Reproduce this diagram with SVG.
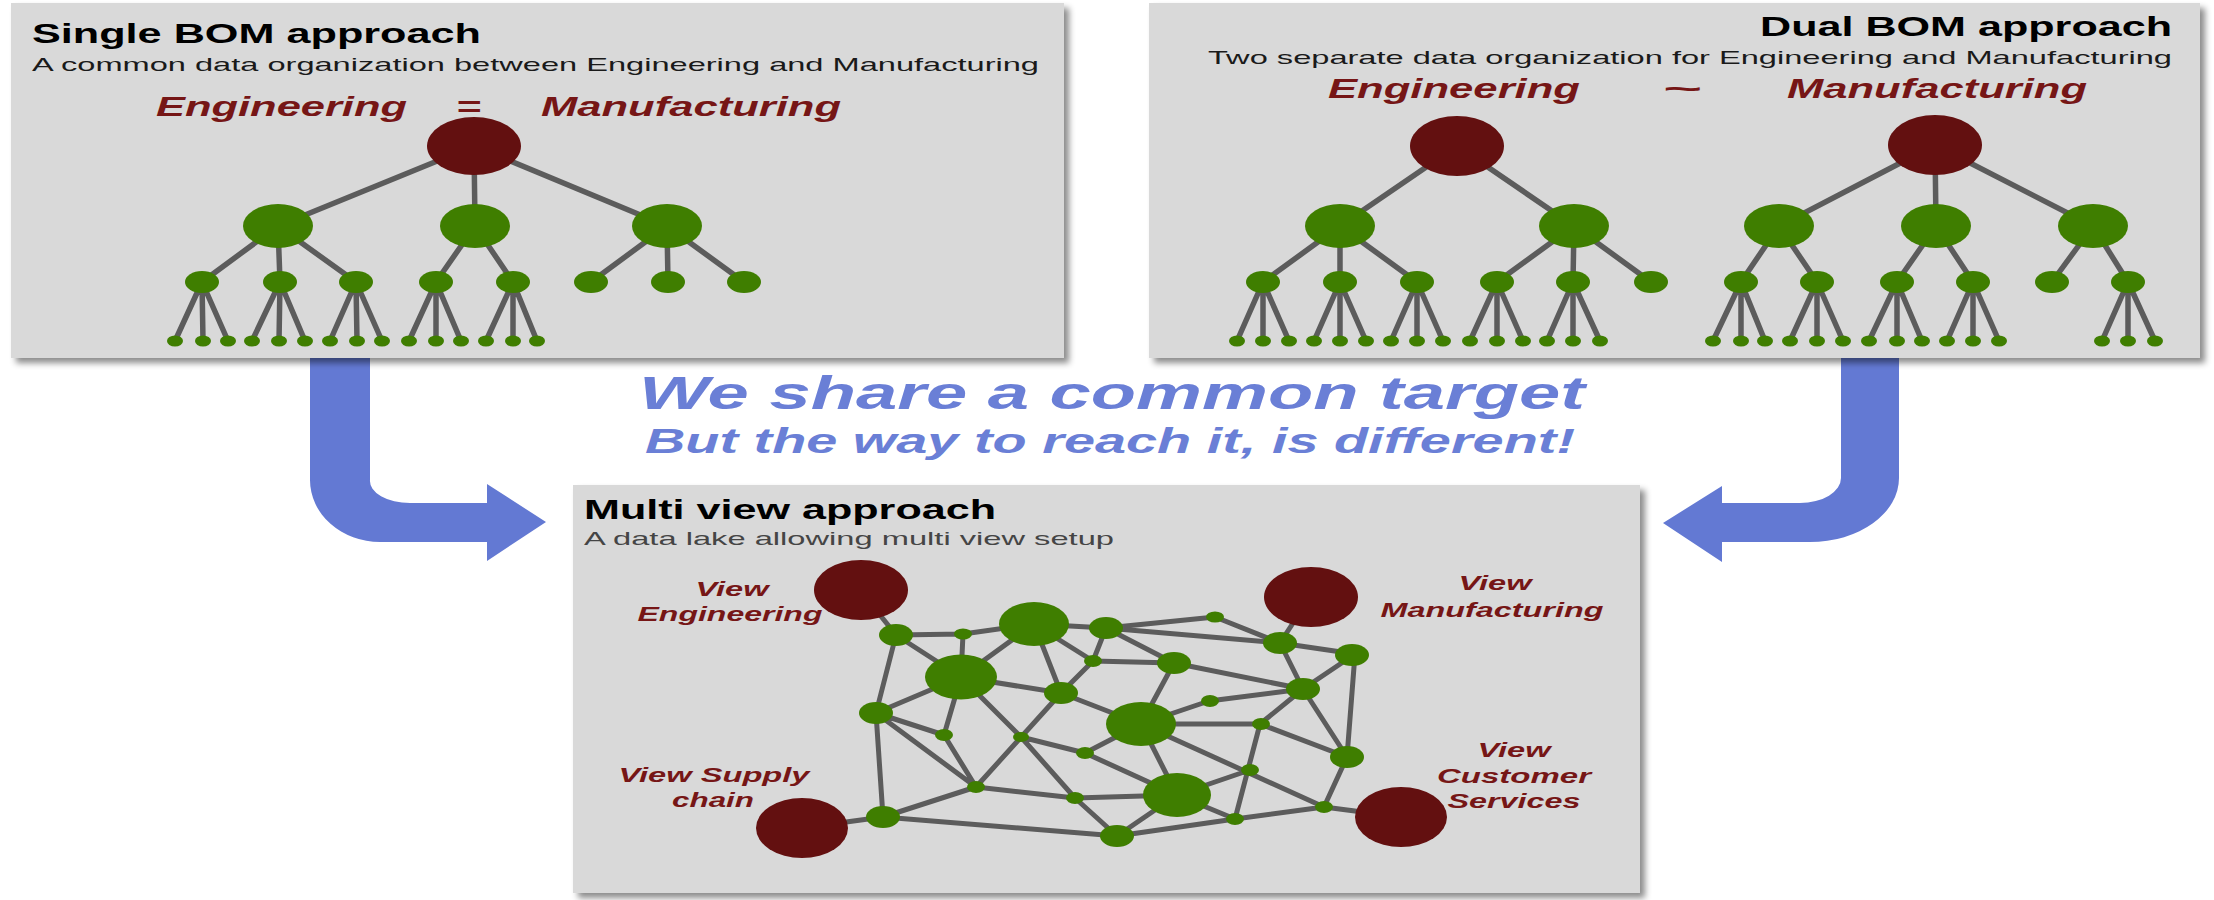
<svg xmlns="http://www.w3.org/2000/svg" width="2214" height="900" viewBox="0 0 2214 900">
<defs>
<filter id="sh" x="-5%" y="-5%" width="115%" height="115%"><feDropShadow dx="5" dy="5" stdDeviation="3" flood-color="#000" flood-opacity="0.45"/></filter>
<style>
.panel{fill:#d9d9d9;filter:url(#sh)}
.e{stroke:#5c5c5c;stroke-width:5.5;stroke-linecap:round;fill:none}
.r{fill:#631010}
.g{fill:#3f7e00}
.ttl{font-family:"Liberation Sans",Arial,sans-serif;font-weight:bold;font-size:27px;fill:#000}
.sub{font-family:"Liberation Sans",Arial,sans-serif;font-size:19px;fill:#1a1a1a}
.red{font-family:"Liberation Sans",Arial,sans-serif;font-weight:bold;font-style:italic;font-size:28px;fill:#761616}
.vl{font-family:"Liberation Sans",Arial,sans-serif;font-weight:bold;font-style:italic;font-size:20px;fill:#761616;text-anchor:middle}
.blue{font-family:"Liberation Sans",Arial,sans-serif;font-weight:bold;font-style:italic;fill:#6a7fd6}
.arrow{fill:#6379d3}
</style>
</defs>
<rect width="2214" height="900" fill="#fff"/>

<g id="arrows">
<path class="arrow" d="M310 350 L370 350 L370 480 A40 22 0 0 0 410 503 L487 503 L487 484 L546 522 L487 561 L487 542 L380 542 A70 62 0 0 1 310 480 Z"/>
<path class="arrow" d="M1899 350 L1841 350 L1841 478 A41 25 0 0 1 1800 503 L1722 503 L1722 486 L1663 523 L1722 562 L1722 542 L1810 542 A89 64 0 0 0 1899 478 Z"/>
</g>

<g id="panel-single">
<rect class="panel" x="11" y="3" width="1053" height="355"/>
<text class="ttl" x="32" y="43" textLength="449" lengthAdjust="spacingAndGlyphs">Single BOM approach</text>
<text class="sub" x="32" y="71" textLength="1007" lengthAdjust="spacingAndGlyphs">A common data organization between Engineering and Manufacturing</text>
<text class="red" x="156" y="116" textLength="251" lengthAdjust="spacingAndGlyphs">Engineering</text>
<text class="red" x="456" y="116" textLength="25" lengthAdjust="spacingAndGlyphs">=</text>
<text class="red" x="541" y="116" textLength="300" lengthAdjust="spacingAndGlyphs">Manufacturing</text>
</g>

<g id="panel-dual">
<rect class="panel" x="1149" y="3" width="1051" height="355"/>
<text class="ttl" x="1760" y="36" textLength="412" lengthAdjust="spacingAndGlyphs">Dual BOM approach</text>
<text class="sub" x="1208" y="64" textLength="964" lengthAdjust="spacingAndGlyphs">Two separate data organization for Engineering and Manufacturing</text>
<text class="red" x="1328" y="98" textLength="252" lengthAdjust="spacingAndGlyphs">Engineering</text>
<text class="red" x="1662" y="98" textLength="39" lengthAdjust="spacingAndGlyphs" font-size="34">~</text>
<text class="red" x="1787" y="98" textLength="300" lengthAdjust="spacingAndGlyphs">Manufacturing</text>
</g>

<g id="panel-multi">
<rect class="panel" x="573" y="485" width="1067" height="408"/>
<text class="ttl" x="584" y="519" textLength="412" lengthAdjust="spacingAndGlyphs">Multi view approach</text>
<text class="sub" x="584" y="545" textLength="530" lengthAdjust="spacingAndGlyphs" style="fill:#454545">A data lake allowing multi view setup</text>
<text class="vl" x="732" y="596" textLength="73" lengthAdjust="spacingAndGlyphs">View</text>
<text class="vl" x="730" y="621" textLength="185" lengthAdjust="spacingAndGlyphs">Engineering</text>
<text class="vl" x="1495" y="590" textLength="73" lengthAdjust="spacingAndGlyphs">View</text>
<text class="vl" x="1492" y="617" textLength="223" lengthAdjust="spacingAndGlyphs">Manufacturing</text>
<text class="vl" x="714" y="782" textLength="191" lengthAdjust="spacingAndGlyphs">View Supply</text>
<text class="vl" x="713" y="807" textLength="82" lengthAdjust="spacingAndGlyphs">chain</text>
<text class="vl" x="1514" y="757" textLength="73" lengthAdjust="spacingAndGlyphs">View</text>
<text class="vl" x="1514" y="783" textLength="154" lengthAdjust="spacingAndGlyphs">Customer</text>
<text class="vl" x="1514" y="808" textLength="133" lengthAdjust="spacingAndGlyphs">Services</text>
</g>

<g id="message">
<text class="blue" x="639" y="409" font-size="46" textLength="946" lengthAdjust="spacingAndGlyphs">We share a common target</text>
<text class="blue" x="645" y="453" font-size="35" textLength="930" lengthAdjust="spacingAndGlyphs">But the way to reach it, is different!</text>
</g>

<g id="connectors">
<path class="e" d="M474 146 L278 226 M474 146 L475 226 M474 146 L667 226 M278 226 L202 282 M278 226 L280 282 M278 226 L356 282 M475 226 L436 282 M475 226 L513 282 M667 226 L591 282 M667 226 L668 282 M667 226 L744 282 M202 282 L175 341 M202 282 L203 341 M202 282 L228 341 M280 282 L252 341 M280 282 L279 341 M280 282 L305 341 M356 282 L330 341 M356 282 L357 341 M356 282 L382 341 M436 282 L409 341 M436 282 L436 341 M436 282 L461 341 M513 282 L486 341 M513 282 L513 341 M513 282 L537 341"/>
<path class="e" d="M1457 146 L1340 226 M1457 146 L1574 226 M1340 226 L1263 282 M1340 226 L1340 282 M1340 226 L1417 282 M1574 226 L1497 282 M1574 226 L1573 282 M1574 226 L1651 282 M1263 282 L1237 341 M1263 282 L1263 341 M1263 282 L1289 341 M1340 282 L1314 341 M1340 282 L1340 341 M1340 282 L1366 341 M1417 282 L1391 341 M1417 282 L1417 341 M1417 282 L1443 341 M1497 282 L1470 341 M1497 282 L1497 341 M1497 282 L1523 341 M1573 282 L1547 341 M1573 282 L1573 341 M1573 282 L1600 341"/>
<path class="e" d="M1935 145 L1779 226 M1935 145 L1936 226 M1935 145 L2093 226 M1779 226 L1741 282 M1779 226 L1817 282 M1936 226 L1897 282 M1936 226 L1973 282 M2093 226 L2052 282 M2093 226 L2128 282 M1741 282 L1713 341 M1741 282 L1741 341 M1741 282 L1765 341 M1817 282 L1790 341 M1817 282 L1817 341 M1817 282 L1843 341 M1897 282 L1869 341 M1897 282 L1897 341 M1897 282 L1922 341 M1973 282 L1947 341 M1973 282 L1973 341 M1973 282 L1999 341 M2128 282 L2102 341 M2128 282 L2128 341 M2128 282 L2155 341"/>
<path class="e" style="stroke-width:5" d="M860 590 L896 635 M896 635 L963 634 M963 634 L1034 624 M963 634 L961 677 M896 635 L961 677 M896 635 L876 713 M1034 624 L1106 628 M1034 624 L961 677 M1034 624 L1061 693 M1034 624 L1093 661 M1106 628 L1215 617 M1106 628 L1280 643 M1106 628 L1093 661 M1106 628 L1174 663 M1215 617 L1280 643 M1310 597 L1280 643 M1280 643 L1355 654 M1280 643 L1303 689 M1093 661 L1174 663 M1093 661 L1061 693 M1174 663 L1303 689 M1174 663 L1141 724 M1355 654 L1303 689 M1355 654 L1347 757 M961 677 L1061 693 M961 677 L876 713 M961 677 L944 735 M961 677 L1021 737 M1021 737 L1075 798 M1075 798 L1117 836 M1061 693 L976 787 M876 713 L976 787 M876 713 L944 735 M876 713 L883 817 M944 735 L976 787 M1061 693 L1141 724 M1141 724 L1085 753 M1085 753 L1021 737 M1141 724 L1209 701 M1209 701 L1303 689 M1141 724 L1260 724 M1260 724 L1303 689 M1260 724 L1347 757 M1141 724 L1324 807 M1141 724 L1177 795 M1303 689 L1347 757 M1260 724 L1235 819 M1347 757 L1324 807 M1324 807 L1401 817 M1324 807 L1235 819 M1235 819 L1117 836 M1177 795 L1250 770 M1177 795 L1235 819 M1177 795 L1117 836 M1177 795 L1075 798 M1075 798 L976 787 M1085 753 L1177 795 M976 787 L883 817 M883 817 L1117 836 M802 828 L883 817"/>
</g>

<g id="tree-single">
<g id="s-root"><ellipse class="r" cx="474" cy="146" rx="47" ry="29"/></g>
<g id="s-a1"><ellipse class="g" cx="278" cy="226" rx="35" ry="22"/></g>
<g id="s-a2"><ellipse class="g" cx="475" cy="226" rx="35" ry="22"/></g>
<g id="s-a3"><ellipse class="g" cx="667" cy="226" rx="35" ry="22"/></g>
<g id="s-b1"><ellipse class="g" cx="202" cy="282" rx="17" ry="11"/></g>
<g id="s-b2"><ellipse class="g" cx="280" cy="282" rx="17" ry="11"/></g>
<g id="s-b3"><ellipse class="g" cx="356" cy="282" rx="17" ry="11"/></g>
<g id="s-b4"><ellipse class="g" cx="436" cy="282" rx="17" ry="11"/></g>
<g id="s-b5"><ellipse class="g" cx="513" cy="282" rx="17" ry="11"/></g>
<g id="s-b6"><ellipse class="g" cx="591" cy="282" rx="17" ry="11"/></g>
<g id="s-b7"><ellipse class="g" cx="668" cy="282" rx="17" ry="11"/></g>
<g id="s-b8"><ellipse class="g" cx="744" cy="282" rx="17" ry="11"/></g>
<g id="s-c1"><ellipse class="g" cx="175" cy="341" rx="8" ry="5.5"/></g>
<g id="s-c2"><ellipse class="g" cx="203" cy="341" rx="8" ry="5.5"/></g>
<g id="s-c3"><ellipse class="g" cx="228" cy="341" rx="8" ry="5.5"/></g>
<g id="s-c4"><ellipse class="g" cx="252" cy="341" rx="8" ry="5.5"/></g>
<g id="s-c5"><ellipse class="g" cx="279" cy="341" rx="8" ry="5.5"/></g>
<g id="s-c6"><ellipse class="g" cx="305" cy="341" rx="8" ry="5.5"/></g>
<g id="s-c7"><ellipse class="g" cx="330" cy="341" rx="8" ry="5.5"/></g>
<g id="s-c8"><ellipse class="g" cx="357" cy="341" rx="8" ry="5.5"/></g>
<g id="s-c9"><ellipse class="g" cx="382" cy="341" rx="8" ry="5.5"/></g>
<g id="s-c10"><ellipse class="g" cx="409" cy="341" rx="8" ry="5.5"/></g>
<g id="s-c11"><ellipse class="g" cx="436" cy="341" rx="8" ry="5.5"/></g>
<g id="s-c12"><ellipse class="g" cx="461" cy="341" rx="8" ry="5.5"/></g>
<g id="s-c13"><ellipse class="g" cx="486" cy="341" rx="8" ry="5.5"/></g>
<g id="s-c14"><ellipse class="g" cx="513" cy="341" rx="8" ry="5.5"/></g>
<g id="s-c15"><ellipse class="g" cx="537" cy="341" rx="8" ry="5.5"/></g>
</g>

<g id="tree-dual-eng">
<g id="de-root"><ellipse class="r" cx="1457" cy="146" rx="47" ry="30"/></g>
<g id="de-a1"><ellipse class="g" cx="1340" cy="226" rx="35" ry="22"/></g>
<g id="de-a2"><ellipse class="g" cx="1574" cy="226" rx="35" ry="22"/></g>
<g id="de-b1"><ellipse class="g" cx="1263" cy="282" rx="17" ry="11"/></g>
<g id="de-b2"><ellipse class="g" cx="1340" cy="282" rx="17" ry="11"/></g>
<g id="de-b3"><ellipse class="g" cx="1417" cy="282" rx="17" ry="11"/></g>
<g id="de-b4"><ellipse class="g" cx="1497" cy="282" rx="17" ry="11"/></g>
<g id="de-b5"><ellipse class="g" cx="1573" cy="282" rx="17" ry="11"/></g>
<g id="de-b6"><ellipse class="g" cx="1651" cy="282" rx="17" ry="11"/></g>
<g id="de-c1"><ellipse class="g" cx="1237" cy="341" rx="8" ry="5.5"/></g>
<g id="de-c2"><ellipse class="g" cx="1263" cy="341" rx="8" ry="5.5"/></g>
<g id="de-c3"><ellipse class="g" cx="1289" cy="341" rx="8" ry="5.5"/></g>
<g id="de-c4"><ellipse class="g" cx="1314" cy="341" rx="8" ry="5.5"/></g>
<g id="de-c5"><ellipse class="g" cx="1340" cy="341" rx="8" ry="5.5"/></g>
<g id="de-c6"><ellipse class="g" cx="1366" cy="341" rx="8" ry="5.5"/></g>
<g id="de-c7"><ellipse class="g" cx="1391" cy="341" rx="8" ry="5.5"/></g>
<g id="de-c8"><ellipse class="g" cx="1417" cy="341" rx="8" ry="5.5"/></g>
<g id="de-c9"><ellipse class="g" cx="1443" cy="341" rx="8" ry="5.5"/></g>
<g id="de-c10"><ellipse class="g" cx="1470" cy="341" rx="8" ry="5.5"/></g>
<g id="de-c11"><ellipse class="g" cx="1497" cy="341" rx="8" ry="5.5"/></g>
<g id="de-c12"><ellipse class="g" cx="1523" cy="341" rx="8" ry="5.5"/></g>
<g id="de-c13"><ellipse class="g" cx="1547" cy="341" rx="8" ry="5.5"/></g>
<g id="de-c14"><ellipse class="g" cx="1573" cy="341" rx="8" ry="5.5"/></g>
<g id="de-c15"><ellipse class="g" cx="1600" cy="341" rx="8" ry="5.5"/></g>
</g>

<g id="tree-dual-mfg">
<g id="dm-root"><ellipse class="r" cx="1935" cy="145" rx="47" ry="30"/></g>
<g id="dm-a1"><ellipse class="g" cx="1779" cy="226" rx="35" ry="22"/></g>
<g id="dm-a2"><ellipse class="g" cx="1936" cy="226" rx="35" ry="22"/></g>
<g id="dm-a3"><ellipse class="g" cx="2093" cy="226" rx="35" ry="22"/></g>
<g id="dm-b1"><ellipse class="g" cx="1741" cy="282" rx="17" ry="11"/></g>
<g id="dm-b2"><ellipse class="g" cx="1817" cy="282" rx="17" ry="11"/></g>
<g id="dm-b3"><ellipse class="g" cx="1897" cy="282" rx="17" ry="11"/></g>
<g id="dm-b4"><ellipse class="g" cx="1973" cy="282" rx="17" ry="11"/></g>
<g id="dm-b5"><ellipse class="g" cx="2052" cy="282" rx="17" ry="11"/></g>
<g id="dm-b6"><ellipse class="g" cx="2128" cy="282" rx="17" ry="11"/></g>
<g id="dm-c1"><ellipse class="g" cx="1713" cy="341" rx="8" ry="5.5"/></g>
<g id="dm-c2"><ellipse class="g" cx="1741" cy="341" rx="8" ry="5.5"/></g>
<g id="dm-c3"><ellipse class="g" cx="1765" cy="341" rx="8" ry="5.5"/></g>
<g id="dm-c4"><ellipse class="g" cx="1790" cy="341" rx="8" ry="5.5"/></g>
<g id="dm-c5"><ellipse class="g" cx="1817" cy="341" rx="8" ry="5.5"/></g>
<g id="dm-c6"><ellipse class="g" cx="1843" cy="341" rx="8" ry="5.5"/></g>
<g id="dm-c7"><ellipse class="g" cx="1869" cy="341" rx="8" ry="5.5"/></g>
<g id="dm-c8"><ellipse class="g" cx="1897" cy="341" rx="8" ry="5.5"/></g>
<g id="dm-c9"><ellipse class="g" cx="1922" cy="341" rx="8" ry="5.5"/></g>
<g id="dm-c10"><ellipse class="g" cx="1947" cy="341" rx="8" ry="5.5"/></g>
<g id="dm-c11"><ellipse class="g" cx="1973" cy="341" rx="8" ry="5.5"/></g>
<g id="dm-c12"><ellipse class="g" cx="1999" cy="341" rx="8" ry="5.5"/></g>
<g id="dm-c13"><ellipse class="g" cx="2102" cy="341" rx="8" ry="5.5"/></g>
<g id="dm-c14"><ellipse class="g" cx="2128" cy="341" rx="8" ry="5.5"/></g>
<g id="dm-c15"><ellipse class="g" cx="2155" cy="341" rx="8" ry="5.5"/></g>
</g>

<g id="network">
<g id="view-eng"><ellipse class="r" cx="861" cy="590" rx="47" ry="30"/></g>
<g id="view-mfg"><ellipse class="r" cx="1311" cy="597" rx="47" ry="30"/></g>
<g id="view-supply"><ellipse class="r" cx="802" cy="828" rx="46" ry="30"/></g>
<g id="view-cust"><ellipse class="r" cx="1401" cy="817" rx="46" ry="30"/></g>
<g id="n-a"><ellipse class="g" cx="896" cy="635" rx="17" ry="11"/></g>
<g id="n-b"><ellipse class="g" cx="963" cy="634" rx="9" ry="5.5"/></g>
<g id="n-c"><ellipse class="g" cx="1034" cy="624" rx="35" ry="22"/></g>
<g id="n-d"><ellipse class="g" cx="1106" cy="628" rx="17" ry="11"/></g>
<g id="n-e"><ellipse class="g" cx="1215" cy="617" rx="9" ry="5.5"/></g>
<g id="n-f"><ellipse class="g" cx="1280" cy="643" rx="17" ry="11"/></g>
<g id="n-g"><ellipse class="g" cx="1352" cy="655" rx="17" ry="11"/></g>
<g id="n-h"><ellipse class="g" cx="961" cy="677" rx="36" ry="22.5"/></g>
<g id="n-i"><ellipse class="g" cx="1093" cy="661" rx="9" ry="6"/></g>
<g id="n-j"><ellipse class="g" cx="1174" cy="663" rx="17" ry="11"/></g>
<g id="n-k"><ellipse class="g" cx="1061" cy="693" rx="17" ry="11"/></g>
<g id="n-l"><ellipse class="g" cx="1303" cy="689" rx="17" ry="11"/></g>
<g id="n-m"><ellipse class="g" cx="1210" cy="701" rx="9" ry="6"/></g>
<g id="n-n"><ellipse class="g" cx="876" cy="713" rx="17" ry="11"/></g>
<g id="n-o"><ellipse class="g" cx="1141" cy="724" rx="35" ry="22"/></g>
<g id="n-p"><ellipse class="g" cx="1261" cy="724" rx="9" ry="6"/></g>
<g id="n-q"><ellipse class="g" cx="944" cy="735" rx="9" ry="6"/></g>
<g id="n-r"><ellipse class="g" cx="1021" cy="737" rx="8" ry="5"/></g>
<g id="n-s"><ellipse class="g" cx="1085" cy="753" rx="9" ry="6"/></g>
<g id="n-t"><ellipse class="g" cx="1347" cy="757" rx="17" ry="11"/></g>
<g id="n-u"><ellipse class="g" cx="1250" cy="770" rx="9" ry="6"/></g>
<g id="n-v"><ellipse class="g" cx="976" cy="787" rx="9" ry="6"/></g>
<g id="n-w"><ellipse class="g" cx="1177" cy="795" rx="34" ry="22"/></g>
<g id="n-x"><ellipse class="g" cx="1075" cy="798" rx="9" ry="6"/></g>
<g id="n-y"><ellipse class="g" cx="1324" cy="807" rx="9" ry="6"/></g>
<g id="n-z"><ellipse class="g" cx="883" cy="817" rx="17" ry="11"/></g>
<g id="n-aa"><ellipse class="g" cx="1235" cy="819" rx="9" ry="6"/></g>
<g id="n-ab"><ellipse class="g" cx="1117" cy="836" rx="17" ry="11"/></g>
</g>
</svg>
